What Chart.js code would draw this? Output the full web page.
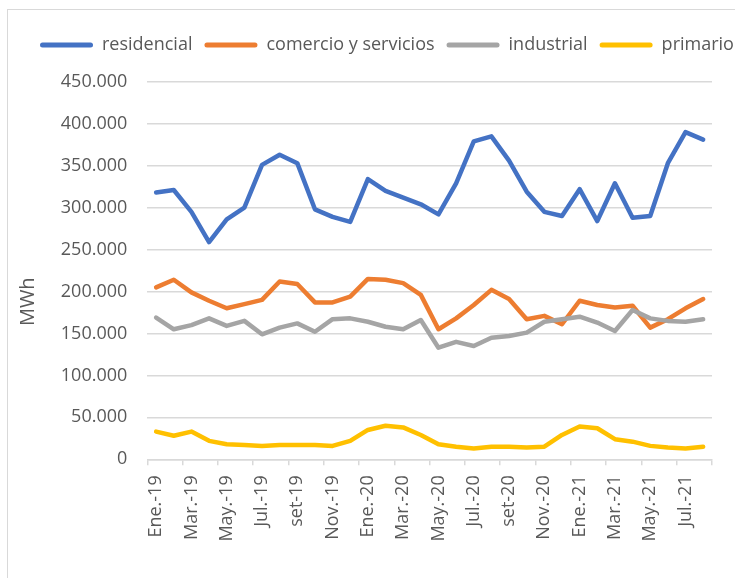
<!DOCTYPE html>
<html>
<head>
<meta charset="utf-8">
<script src="https://cdn.jsdelivr.net/npm/chart.js@4.4.1/dist/chart.umd.min.js"></script>
<style>
  html, body { margin: 0; padding: 0; background: #ffffff; overflow: hidden; }
  #wrap { position: relative; width: 735px; height: 578px; }
  #frame { position: absolute; left: 7px; top: 9px; width: 760px; height: 600px;
           border-left: 1.5px solid #d9d9d9; border-top: 1.5px solid #d9d9d9; pointer-events: none; }
  canvas { position: absolute; left: 0; top: 0; }
</style>
</head>
<body>
<div id="wrap">
  <canvas id="c" width="735" height="578"></canvas>
  <div id="frame"></div>
</div>
<script>
const months = ["Ene.-19","Feb.-19","Mar.-19","Abr.-19","May.-19","Jun.-19","Jul.-19","Ago.-19","set-19","Oct.-19","Nov.-19","Dic.-19",
                "Ene.-20","Feb.-20","Mar.-20","Abr.-20","May.-20","Jun.-20","Jul.-20","Ago.-20","set-20","Oct.-20","Nov.-20","Dic.-20",
                "Ene.-21","Feb.-21","Mar.-21","Abr.-21","May.-21","Jun.-21","Jul.-21","Ago.-21"];
const residencial = [318000,321000,295000,259000,286000,300000,351000,363000,353000,298000,289000,283000,
                     334000,320000,312000,304000,292000,329000,379000,385000,356000,319000,295000,290000,
                     322000,284000,329000,288000,290000,353000,390000,381000];
const comercio = [205000,214000,199000,189000,180000,185000,190000,212000,209000,187000,187000,194000,
                  215000,214000,210000,196000,155000,168000,184000,202000,191000,167000,171000,161000,
                  189000,184000,181000,183000,157000,167000,180000,191000];
const industrial = [169000,155000,160000,168000,159000,165000,149000,157000,162000,152000,167000,168000,
                    164000,158000,155000,166000,133000,140000,135000,145000,147000,151000,164000,167000,
                    170000,163000,153000,178000,168000,165000,164000,167000];
const primario = [33000,28000,33000,22000,18000,17000,16000,17000,17000,17000,16000,22000,
                  35000,40000,38000,29000,18000,15000,13000,15000,15000,14000,15000,29000,
                  39000,37000,24000,21000,16000,14000,13000,15000];
const seriesNames = ["residencial","comercio y servicios","industrial","primario"];
const seriesColors = ["#4472C4","#ED7D31","#A5A5A5","#FFC000"];
const yTicks = [0,50000,100000,150000,200000,250000,300000,350000,400000,450000];

const TXT = '#595959';
const GRID = '#d9d9d9';
const FONT = "'Open Sans', 'DejaVu Sans', sans-serif";
const fmt = v => String(v).replace(/\B(?=(\d{3})+(?!\d))/g, '.');

const values = [residencial, comercio, industrial, primario];
const datasets = values.map((d, i) => ({
  label: seriesNames[i],
  data: d,
  borderColor: seriesColors[i],
  backgroundColor: seriesColors[i],
  borderWidth: 4.5,
  pointRadius: 0,
  pointHoverRadius: 0,
  tension: 0,
  borderJoinStyle: 'round',
  borderCapStyle: 'round',
  fill: false,
  order: values.length - 1 - i,
  yAxisID: 'y'
}));

new Chart(document.getElementById('c'), {
  type: 'line',
  data: { labels: months, datasets },
  options: {
    responsive: false,
    animation: false,
    devicePixelRatio: 1,
    layout: { padding: { left: 28, right: -30, top: 24, bottom: 0 } },
    plugins: {
      tooltip: { enabled: false },
      subtitle: {
        display: true,
        text: '',
        position: 'top',
        weight: 500,
        padding: 0,
        font: { size: 10, lineHeight: 1.78 }
      },
      legend: {
        position: 'top',
        align: 'start',
        labels: {
          font: { family: FONT, size: 18 },
          color: TXT,
          boxWidth: 53,
          boxHeight: 5,
          padding: 12,
          useBorderRadius: true,
          borderRadius: 2.5,
          sort: (a, b) => a.datasetIndex - b.datasetIndex,
          generateLabels: (chart) => Chart.defaults.plugins.legend.labels.generateLabels(chart).map(it => ({
            ...it, fillStyle: it.strokeStyle, lineWidth: 0, borderRadius: 2.5
          }))
        }
      }
    },
    scales: {
      x: {
        type: 'category',
        offset: true,
        grid: {
          offset: true,
          drawOnChartArea: false,
          drawTicks: true,
          tickLength: 6,
          lineWidth: 1.5,
          color: (c) => (c.index === undefined || c.index % 2 === 0) ? GRID : 'rgba(0,0,0,0)'
        },
        border: { display: true, color: GRID, width: 1.5 },
        ticks: {
          autoSkip: false,
          maxRotation: 90,
          minRotation: 90,
          padding: 10,
          color: TXT,
          font: { family: FONT, size: 18 },
          callback: (v, i) => (i % 2 === 0 ? months[i] : '')
        },
        afterFit: (s) => { s.height = 578 - 459.3; }
      },
      y: {
        position: 'left',
        min: 0,
        max: 450000,
        afterBuildTicks: (s) => { s.ticks = yTicks.map(v => ({ value: v })); },
        grid: { color: GRID, lineWidth: 1.5, drawTicks: false },
        border: { display: false },
        ticks: {
          padding: 20,
          color: TXT,
          font: { family: FONT, size: 18 },
          callback: (v) => fmt(v)
        },
        title: {
          display: true,
          text: 'MWh            ',
          color: TXT,
          font: { family: FONT, size: 20 },
          padding: { top: -12, bottom: 0 }
        },
        afterFit: (s) => { s.width = 147.3 - 28; }
      },
      yDummy: {
        position: 'right',
        display: true,
        grid: { display: false },
        border: { display: false },
        ticks: { display: false },
        afterFit: (s) => { s.width = 765 - 719.3; }
      }
    }
  }
});
</script>
</body>
</html>
